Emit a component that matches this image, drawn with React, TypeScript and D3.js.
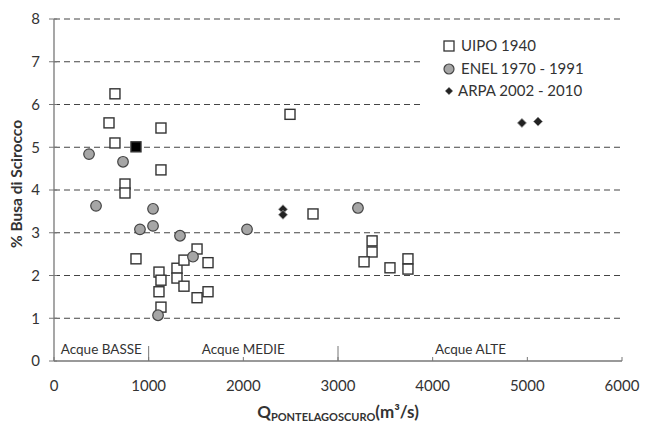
import React from "react";
import * as d3 from "d3";

const uipoX = [644, 581, 1130, 644, 1130, 750, 750, 866, 2493, 2736, 3360, 3360, 3275, 3549, 3739, 3739, 1109, 1130, 1109, 1130, 1299, 1299, 1373, 1373, 1511, 1627, 1511, 1627];
const uipoY = [6.25, 5.57, 5.45, 5.10, 4.47, 4.14, 3.93, 2.39, 5.77, 3.44, 2.81, 2.55, 2.32, 2.18, 2.39, 2.15, 2.08, 1.89, 1.62, 1.26, 2.17, 1.94, 1.75, 2.36, 2.62, 2.30, 1.48, 1.62];
const filledX = [866];
const filledY = [5.01];
const enelX = [370, 729, 444, 1046, 1046, 908, 1331, 1468, 2039, 1099, 3211];
const enelY = [4.84, 4.66, 3.63, 3.56, 3.16, 3.08, 2.93, 2.44, 3.08, 1.07, 3.58];
const arpaX = [2419, 2419, 4943, 5113];
const arpaY = [3.55, 3.42, 5.57, 5.60];
const xTicks = [0, 1000, 2000, 3000, 4000, 5000, 6000];
const yTicks = [0, 1, 2, 3, 4, 5, 6, 7, 8];
const legendLabels = ["UIPO 1940", "ENEL 1970 - 1991", "ARPA 2002 - 2010"];
const regionLabels = ["Acque BASSE", "Acque MEDIE", "Acque ALTE"];
const regionCenters = [500, 2000, 4400];
const regionBounds = [1000, 3000];

const FONT = "Lato, 'Open Sans', sans-serif";

function diamondPath(r: number) {
  const p = d3.path();
  p.moveTo(0, -r);
  p.lineTo(r, 0);
  p.lineTo(0, r);
  p.lineTo(-r, 0);
  p.closePath();
  return p.toString();
}

export default function App() {
  const x = d3.scaleLinear().domain([0, 6000]).range([54, 622]);
  const y = d3.scaleLinear().domain([0, 8]).range([361, 19]);
  const sq = 10;
  const diamond = diamondPath(4.5);
  const diamondSmall = diamondPath(3.8);
  const axisColor = "#777";
  const textColor = "#333";

  return (
    <svg width={649} height={426} style={{ position: "absolute", left: 0, top: 0 }} fontFamily={FONT}>
      <rect x={0} y={0} width={649} height={426} fill="#fff" />
      {yTicks.filter((t) => t > 0).map((t) => (
        <line key={"g" + t} x1={x(0)} x2={620} y1={y(t)} y2={y(t)} stroke="#444" strokeWidth={1} strokeDasharray="6,4" />
      ))}
      {/* legend background */}
      <rect x={420} y={30} width={202} height={100} fill="#fff" />
      {/* axes */}
      <line x1={x(0)} x2={x(0)} y1={y(8)} y2={y(0)} stroke={axisColor} strokeWidth={1.3} />
      <line x1={x(0)} x2={x(6000)} y1={y(0)} y2={y(0)} stroke={axisColor} strokeWidth={1.3} />
      {yTicks.map((t) => (
        <g key={"yt" + t}>
          <line x1={x(0) - 5} x2={x(0) + 3} y1={y(t)} y2={y(t)} stroke={axisColor} strokeWidth={1} />
          <text x={40} y={y(t)} dy="0.35em" textAnchor="end" fontSize={15} fill={textColor}>{t}</text>
        </g>
      ))}
      {xTicks.map((t) => (
        <g key={"xt" + t}>
          <line x1={x(t)} x2={x(t)} y1={y(0) - 4} y2={y(0)} stroke={axisColor} strokeWidth={1} />
          <text x={x(t)} y={391} textAnchor="middle" fontSize={15} fill={textColor}>{t}</text>
        </g>
      ))}
      {regionBounds.map((b) => (
        <line key={"rb" + b} x1={x(b)} x2={x(b)} y1={346} y2={y(0)} stroke={axisColor} strokeWidth={1} />
      ))}
      {regionLabels.map((l, i) => (
        <text key={l} x={x(regionCenters[i])} y={354} textAnchor="middle" fontSize={13.5} fill={textColor}>{l}</text>
      ))}
      {/* axis titles */}
      <text transform={`translate(22,184) rotate(-90)`} textAnchor="middle" fontSize={15.5} fontWeight="bold" fill={textColor}>% Busa di Scirocco</text>
      <text x={338} y={418} textAnchor="middle" fontWeight="bold" fill={textColor} fontSize={17}>
        Q<tspan fontSize={11} dy={3}>PONTELAGOSCURO</tspan><tspan dy={-3}>(m³/s)</tspan>
      </text>
      {/* data */}
      {uipoX.map((v, i) => (
        <rect key={"u" + i} x={x(v) - sq / 2} y={y(uipoY[i]) - sq / 2} width={sq} height={sq} fill="#fff" stroke="#333" strokeWidth={1.4} />
      ))}
      {filledX.map((v, i) => (
        <rect key={"f" + i} x={x(v) - sq / 2} y={y(filledY[i]) - sq / 2} width={sq} height={sq} fill="#000" stroke="#333" strokeWidth={1.4} />
      ))}
      {enelX.map((v, i) => (
        <circle key={"e" + i} cx={x(v)} cy={y(enelY[i])} r={5.3} fill="#a6a6a6" stroke="#444" strokeWidth={1.2} />
      ))}
      {arpaX.map((v, i) => (
        <path key={"a" + i} d={diamond} transform={`translate(${x(v)},${y(arpaY[i])})`} fill="#222" stroke="#999" strokeWidth={0.8} />
      ))}
      {/* legend */}
      <rect x={444} y={41} width={10} height={10} fill="#fff" stroke="#333" strokeWidth={1.3} />
      <circle cx={449} cy={69} r={5} fill="#a6a6a6" stroke="#444" strokeWidth={1.2} />
      <path d={diamondSmall} transform="translate(449,91)" fill="#222" stroke="#999" strokeWidth={0.6} />
      {legendLabels.map((l, i) => (
        <text key={l} x={i === 2 ? 458 : 461} y={46 + i * 22.5} dy="0.35em" fontSize={15} fill={textColor}>{l}</text>
      ))}
    </svg>
  );
}
